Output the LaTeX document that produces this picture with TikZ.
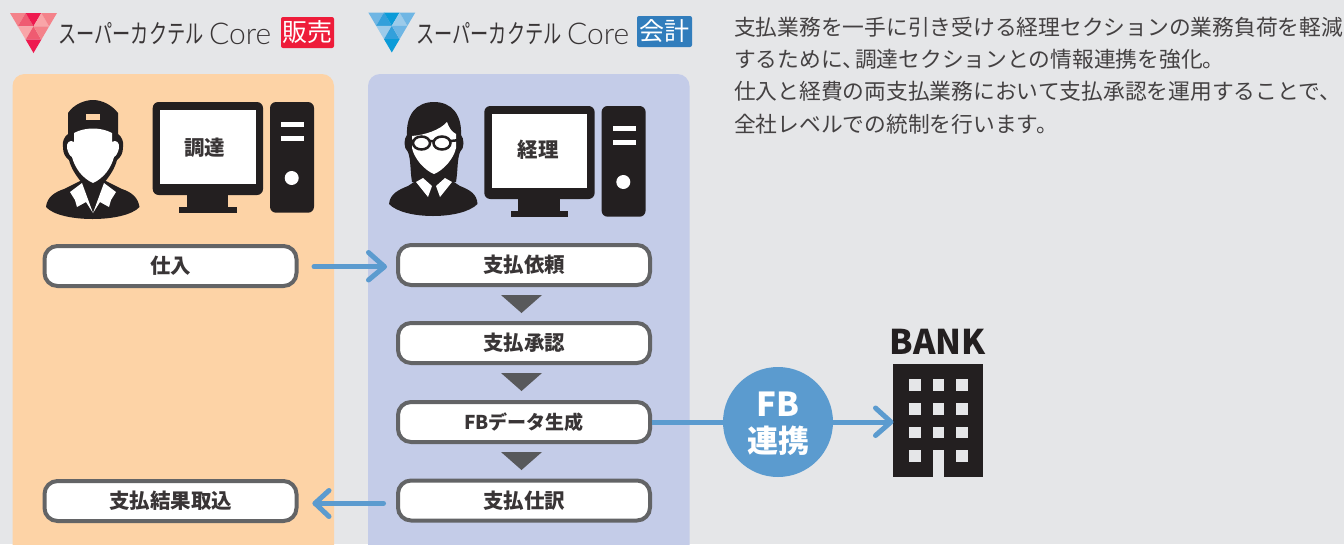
\documentclass[tikz,border=0pt]{standalone}
\usepackage{fontspec}
\setmainfont{Noto Sans CJK JP}
\newfontfamily\corefont{Lato Light}
\definecolor{bgc}{HTML}{E5E6E8}
\definecolor{orangep}{HTML}{FDD3A6}
\definecolor{bluep}{HTML}{C4CCE8}
\definecolor{ink}{HTML}{231F20}
\definecolor{stepline}{HTML}{636466}
\definecolor{tric}{HTML}{58595B}
\definecolor{flow}{HTML}{5B9BCF}
\definecolor{redb}{HTML}{EE1C3A}
\definecolor{blueb}{HTML}{317DBC}
\definecolor{rda}{HTML}{EE1A4F}
\definecolor{rdb}{HTML}{EF5B71}
\definecolor{rdc}{HTML}{F4828A}
\definecolor{rdd}{HTML}{F9A5A8}
\definecolor{bla}{HTML}{0B9BD8}
\definecolor{blb}{HTML}{33A0DB}
\definecolor{blc}{HTML}{6FB6E4}
\definecolor{bld}{HTML}{9CCBEA}
\tikzset{
 x=1pt,y=-1pt,
 stepbox/.style={draw=stepline,line width=4pt,fill=white,rounded corners=13pt,minimum width=252pt,minimum height=40pt,inner sep=0pt,font=\fontsize{20.5}{20.5}\selectfont\bfseries,text=ink!90},
 flowline/.style={draw=flow,line width=5pt,line cap=round},
 flowarrow/.style={flowline,line join=round},
 downtri/.style={fill=tric,draw=none},
 lane/.style={rounded corners=12pt,draw=none},
 para/.style={anchor=west,inner sep=0pt,font=\fontsize{21.75}{22}\selectfont,text=ink!85},
 logotxt/.style={anchor=west,inner sep=0pt,text=ink!90},
 badge/.style={rounded corners=2pt,minimum height=31pt,inner sep=0pt,text=white,font=\fontsize{25}{25}\selectfont},
 screenlab/.style={inner sep=0pt,font=\fontsize{20.5}{20.5}\selectfont\bfseries,text=ink!90},
}
\newcommand{\logotri}[3]{% x, y, colour prefix
 \begin{scope}[shift={(#1,#2)}]
  \fill[#3c] (0,0)--(15.7,0)--(7.85,13.3)--cycle;
  \fill[#3b] (15.7,0)--(7.85,13.3)--(23.5,13.3)--cycle;
  \fill[#3a] (15.7,0)--(31.3,0)--(23.5,13.3)--cycle;
  \fill[#3d] (31.3,0)--(23.5,13.3)--(39.15,13.3)--cycle;
  \fill[#3c] (31.3,0)--(47,0)--(39.15,13.3)--cycle;
  \fill[#3d] (7.85,13.3)--(23.5,13.3)--(15.7,26.7)--cycle;
  \fill[#3b] (23.5,13.3)--(15.7,26.7)--(31.3,26.7)--cycle;
  \fill[#3c] (23.5,13.3)--(39.15,13.3)--(31.3,26.7)--cycle;
  \fill[#3a] (15.7,26.7)--(31.3,26.7)--(23.5,40)--cycle;
 \end{scope}}
\newcommand{\pcset}[1]{% x offset of monitor
 \begin{scope}[shift={(#1,0)}]
  \fill[ink,rounded corners=6pt] (0,0) rectangle (110.3,93);
  \fill[white] (7.5,8) rectangle (103,82);
  \fill[ink] (34,93) rectangle (75.3,105);
  \fill[ink] (26.3,104.7) rectangle (84,110.7);
  \fill[ink,rounded corners=6pt] (117.3,0) rectangle (161.3,110.7);
  \fill[white] (128.3,20) rectangle (151.3,25);
  \fill[white] (128.3,33.7) rectangle (151.3,38.7);
  \fill[white] (139,76) circle (7);
 \end{scope}}
\begin{document}
\begin{tikzpicture}
\useasboundingbox (0,0) rectangle (1344,544);
\fill[bgc] (0,0) rectangle (1344,544);
% lanes
\begin{scope}
\clip (0,0) rectangle (1344,544);
\fill[orangep,lane] (12.5,74) rectangle (334,570);
\fill[bluep,lane] (368,74) rectangle (689.5,570);
\end{scope}
% logos
\logotri{10}{13}{rd}
\logotri{368.3}{12.5}{bl}
\node[logotxt] (lg1) at (58,33.5) {\fontsize{26}{26}\selectfont\scalebox{0.70}[1]{スーパーカクテル}};
\node[logotxt] (co1) at (209,34) {\corefont\fontsize{30}{30}\selectfont Core};
\node[badge,fill=redb,minimum width=53pt] (bd1) at (307.5,32.5) {販売};
\node[logotxt] (lg2) at (416,33.5) {\fontsize{26}{26}\selectfont\scalebox{0.70}[1]{スーパーカクテル}};
\node[logotxt] (co2) at (567,34) {\corefont\fontsize{30}{30}\selectfont Core};
\node[badge,fill=blueb,minimum width=55pt] (bd2) at (664.5,31.5) {会計};
% paragraph
\node[para] (p1) at (734,27) {支払業務を一手に引き受ける経理セクションの業務負荷を軽減};
\node[para] (p2) at (734,59) {するために、\hspace{-9pt}調達セクションとの情報連携を強化。};
\node[para] (p3) at (734,91) {仕入と経費の両支払業務において支払承認を運用することで、};
\node[para] (p4) at (734,124) {全社レベルでの統制を行います。};
% computers
\begin{scope}[shift={(0,102)}]\pcset{152.7}\end{scope}
\begin{scope}[shift={(0,106)}]\pcset{484.3}\end{scope}
\node[screenlab] (s1) at (204.5,148) {調達};
\node[screenlab] (s2) at (538,150) {経理};
% person 1 (cap)
\fill[ink] (46,207) .. controls (47,197) and (55,192) .. (64,189) -- (82,180) -- (104,180) -- (122,189) .. controls (131,192) and (138,197) .. (139.5,207) .. controls (125,223) and (60,223) .. (46,207) -- cycle;
\fill[ink] (68,136) -- (68,113) .. controls (74,104) and (85,100) .. (93,100) .. controls (102,100) and (112,105) .. (118,113) -- (118,136) -- cycle;
\fill[ink] (68,134) .. controls (64,137) and (62,142) .. (63,147) .. controls (63,153) and (65,157) .. (69,160) .. controls (71,168) and (76,176) .. (83,184) -- (83,195) -- (103,195) -- (103,184) .. controls (110,176) and (115,168) .. (117,160) .. controls (121,157) and (123,153) .. (123,147) .. controls (124,142) and (122,137) .. (118,134) -- cycle;
\fill[white] (74,133) .. controls (85,127) and (101,127) .. (112,133) -- (112,142) .. controls (116,139) and (120,143) .. (119,148) .. controls (118,153) and (116,156) .. (114,157) .. controls (111,168) and (104,178) .. (93,183) .. controls (82,178) and (75,168) .. (72,157) .. controls (70,156) and (68,153) .. (67,148) .. controls (66,143) and (70,139) .. (74,142) -- cycle;
\fill[orangep] (85.5,114) rectangle (100,120);
\fill[white] (70,192) -- (82,183) -- (93,213) -- (86,202) -- (77,207) -- (75,200) -- cycle;
\fill[white] (116,192) -- (104,183) -- (93,213) -- (100,202) -- (109,207) -- (111,200) -- cycle;
% person 2 (glasses)
\fill[ink] (389,204) .. controls (390,194) and (398,190) .. (408,186) -- (420,178) -- (448,178) -- (460,186) .. controls (470,190) and (477,194) .. (477.5,204) .. controls (462,220) and (404,220) .. (389,204) -- cycle;
\fill[ink] (412,182) .. controls (410,170) and (411,160) .. (408,152) .. controls (403,148) and (404,138) .. (407,135) .. controls (406,115) and (416,102) .. (434,102) .. controls (452,102) and (462,115) .. (461,135) .. controls (464,138) and (465,148) .. (460,152) .. controls (457,160) and (458,170) .. (456,182) -- cycle;
\fill[white] (412,136) .. controls (425,135) and (440,130) .. (447,122) .. controls (449,128) and (452,132) .. (456,134) -- (456,148) .. controls (454,158) and (444,170) .. (434,174) .. controls (424,170) and (414,158) .. (412,148) -- cycle;
\fill[white] (416,182) -- (423,178) -- (432,186) -- (428,197) -- cycle;
\fill[white] (452,182) -- (445,178) -- (436,186) -- (440,197) -- cycle;
\draw[ink,line width=2.5pt,fill=white] (421.5,143) ellipse (8.5 and 6.5);
\draw[ink,line width=2.5pt,fill=white] (442,143) ellipse (8.5 and 6.5);
\draw[ink,line width=2.5pt] (430,141) -- (434,141) (413,141) -- (408,140) (450.5,141) -- (460,140);
% step boxes
\node[stepbox] (shiire) at (170.5,266) {仕入};
\node[stepbox] (irai) at (524,265) {支払依頼};
\node[stepbox] (shonin) at (524,343) {支払承認};
\node[stepbox,font=\fontsize{19}{19}\selectfont\bfseries] (fb) at (524,422) {FBデータ生成};
\node[stepbox] (shiwake) at (524,500.5) {支払仕訳};
\node[stepbox] (torikomi) at (170.5,501) {支払結果取込};
% triangles
\fill[downtri] (501,295)--(542,295)--(521.5,313)--cycle;
\fill[downtri] (501,373)--(542,373)--(521.5,391)--cycle;
\fill[downtri] (501,452)--(542,452)--(521.5,470)--cycle;
% bank
\node[inner sep=0pt,font=\fontsize{34}{34}\selectfont\bfseries,text=ink] (banklab) at (937.5,342) {BANK};
\fill[ink] (893.3,364) rectangle (983.3,477.3);
\foreach \c in {0,1,2}\foreach \r in {0,1,2}
  \fill[bgc] ({909.3+\c*23.4},{379.3+\r*23.6}) rectangle ++(11.7,11.7);
\fill[bgc] (909.3,450) rectangle ++(11.7,11.7);
\fill[bgc] (956,450) rectangle ++(11.7,11.7);
\fill[bgc] (932.7,450) rectangle (944.3,477.4);
\coordinate (bankw) at (891,422);
% connectors
\coordinate (a1s) at (314,266.7); \coordinate (a1e) at (384,266.7);
\draw[flowline] (a1s) -- (a1e);
\draw[flowarrow] (368.5,252.5) -- (384.5,266.7) -- (368.5,280);
\coordinate (a2s) at (383.5,503.3); \coordinate (a2e) at (315,503.3);
\draw[flowline] (a2s) -- (a2e);
\draw[flowarrow] (329,490.5) -- (315,503.3) -- (329,516.5);
\node[circle,fill=flow,minimum size=110pt,inner sep=0pt] (fbc) at (778,422) {};
\node[inner sep=0pt,text=white,font=\fontsize{33}{33}\selectfont\bfseries] (fbl1) at (778,404) {FB};
\node[inner sep=0pt,text=white,font=\fontsize{31}{31}\selectfont\bfseries] (fbl2) at (778,441) {連携};
\draw[flowline,line cap=butt] (fb.east) -- (fbc.west);
\draw[flowline,line cap=butt] (fbc.east) -- (bankw);
\draw[flowarrow] (875.5,408) -- (891,422) -- (875.5,435.5);
\end{tikzpicture}
\end{document}
